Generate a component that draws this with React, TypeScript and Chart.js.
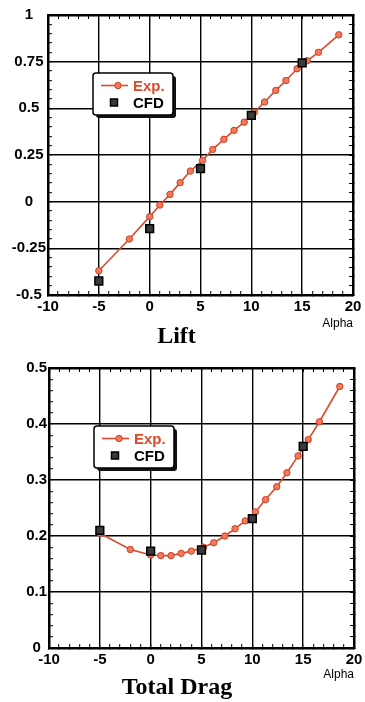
import React, { useEffect, useRef } from 'react';
import { Chart, registerables } from 'chart.js';

Chart.register(...registerables);

// ---------- data ----------
const alphaExp = [-5, -2, 0, 1, 2, 3, 4, 5.2, 6.2, 7.3, 8.3, 9.3, 10.3, 11.3, 12.4, 13.4, 14.5, 15.5, 16.6, 18.6];
const liftExp = [-0.37, -0.2, -0.08, -0.018, 0.039, 0.102, 0.164, 0.221, 0.28, 0.334, 0.382, 0.426, 0.48, 0.534, 0.596, 0.649, 0.712, 0.755, 0.8, 0.894];
const dragExp = [0.205, 0.176, 0.166, 0.165, 0.165, 0.169, 0.173, 0.18, 0.188, 0.2, 0.213, 0.227, 0.243, 0.265, 0.288, 0.313, 0.343, 0.372, 0.404, 0.467];
const alphaCfd = [-5, 0, 5, 10, 15];
const liftCfd = [-0.425, -0.145, 0.177, 0.462, 0.744];
const dragCfd = [0.21, 0.173, 0.175, 0.231, 0.36];

const seriesLabels = ['Exp.', 'CFD'];
const chartTitles = ['Lift', 'Total Drag'];
const xAxisLabel = 'Alpha';

const xRange = [-10, 20];
const xMajor = 5;
const xMinor = 1;
const liftRange = [-0.5, 1];
const liftMajor = 0.25;
const liftMinor = 0.05;
const dragRange = [0, 0.5];
const dragMajor = 0.1;
const dragMinor = 0.02;

// ---------- styles ----------
const W = 365;
const H = 351;
const RED = '#dc4a2c';
const TICK_FONT = { family: 'Liberation Sans, Arial, sans-serif', size: 15, weight: 'bold' as const };

const isMajor = (v: number, step: number) => Math.abs(v / step - Math.round(v / step)) < 1e-6;
const fmt = (v: number) => String(Math.round(v * 100) / 100);

const boxLegend = {
  id: 'boxLegend',
  afterDatasetsDraw(chart: any, _args: any, opts: any) {
    const { ctx, chartArea } = chart;
    const x = chartArea.left + opts.dx;
    const y = chartArea.top + opts.dy;
    const w = opts.w;
    const h = opts.h;
    ctx.save();
    // shadow
    ctx.fillStyle = '#111';
    ctx.beginPath();
    ctx.roundRect(x + 3, y + 3, w, h, 3);
    ctx.fill();
    ctx.fillStyle = '#fff';
    ctx.strokeStyle = '#000';
    ctx.lineWidth = 1.5;
    ctx.beginPath();
    ctx.roundRect(x, y, w, h, 3);
    ctx.fill();
    ctx.stroke();
    ctx.font = 'bold 15px "Liberation Sans", Arial, sans-serif';
    ctx.textBaseline = 'middle';
    chart.data.datasets.forEach((ds: any, i: number) => {
      const ry = y + opts.rows[i];
      if (ds.showLine !== false) {
        ctx.strokeStyle = ds.borderColor;
        ctx.lineWidth = 1.6;
        ctx.beginPath();
        ctx.moveTo(x + 8, ry);
        ctx.lineTo(x + 35, ry);
        ctx.stroke();
        ctx.fillStyle = ds.pointBackgroundColor;
        ctx.strokeStyle = ds.pointBorderColor;
        ctx.lineWidth = 1;
        ctx.beginPath();
        ctx.arc(x + 25, ry, 3.2, 0, Math.PI * 2);
        ctx.fill();
        ctx.stroke();
        ctx.fillStyle = RED;
      } else {
        ctx.fillStyle = ds.pointBackgroundColor;
        ctx.strokeStyle = ds.pointBorderColor;
        ctx.lineWidth = 1.5;
        ctx.fillRect(x + 17.5, ry - 3.5, 7, 7);
        ctx.strokeRect(x + 17.5, ry - 3.5, 7, 7);
        ctx.fillStyle = '#000';
      }
      ctx.fillText(ds.label, x + 40, ry + 1);
    });
    ctx.restore();
  },
};

type PanelProps = {
  title: string;
  exp: number[];
  cfd: number[];
  yRange: number[];
  yMajor: number;
  yMinor: number;
  top: number;
  plotTop: number;
  plotBottom: number;
  plotLeft: number;
  plotRight: number;
};

const noPad = (s: any) => {
  s.paddingLeft = 0;
  s.paddingRight = 0;
  s.paddingTop = 0;
  s.paddingBottom = 0;
};

function Panel(p: PanelProps) {
  const ref = useRef<HTMLCanvasElement>(null);
  useEffect(() => {
    const titleFontSize = 24;
    const titleH = titleFontSize * 1.2;
    const tickLen = -4;
    const gridColor = (step: number) => (c: any) =>
      c.tick && isMajor(c.tick.value, step) ? '#000' : 'rgba(0,0,0,0)';
    const chart = new Chart(ref.current!, {
      type: 'line',
      data: {
        datasets: [
          {
            label: seriesLabels[0],
            data: alphaExp.map((a, i) => ({ x: a, y: p.exp[i] })),
            borderColor: RED,
            borderWidth: 1.6,
            pointRadius: 3.2,
            pointBackgroundColor: '#f27a5a',
            pointBorderColor: '#d23c22',
            pointBorderWidth: 1,
            showLine: true,
            order: 1,
          },
          {
            label: seriesLabels[1],
            data: alphaCfd.map((a, i) => ({ x: a, y: p.cfd[i] })),
            showLine: false,
            pointStyle: 'rect',
            pointRadius: 5.5,
            pointBackgroundColor: '#3a3a3a',
            pointBorderColor: '#000',
            pointBorderWidth: 1.5,
            borderColor: '#000',
            order: 0,
          },
        ],
      },
      options: {
        animation: false,
        responsive: false,
        maintainAspectRatio: false,
        events: [],
        layout: {
          padding: { top: p.plotTop, left: 0, right: W - p.plotRight, bottom: 0 },
        },
        plugins: {
          legend: { display: false },
          tooltip: { enabled: false },
          title: {
            display: true,
            position: 'bottom',
            text: p.title,
            color: '#000',
            font: { family: 'Liberation Serif, Times New Roman, serif', size: titleFontSize, weight: 'bold', lineHeight: 1.2 },
            padding: { top: 0, bottom: 0 },
          },
          boxLegend: { dx: 45, dy: 58, w: 80, h: 42, rows: [12.5, 29.5] },
        } as any,
        scales: {
          x: {
            type: 'linear',
            position: 'bottom',
            min: xRange[0],
            max: xRange[1],
            afterFit: (s: any) => {
              s.height = H - p.plotBottom - titleH;
              noPad(s);
            },
            ticks: {
              stepSize: xMinor,
              autoSkip: false,
              maxRotation: 0,
              maxTicksLimit: 200,
              padding: 7,
              color: '#000',
              font: TICK_FONT,
              callback: (v: any) => (isMajor(Number(v), xMajor) ? fmt(Number(v)) : ''),
            },
            grid: {
              color: gridColor(xMajor),
              lineWidth: 1.4,
              tickLength: tickLen,
              tickColor: '#000',
              tickWidth: 1,
            },
            border: { color: '#000', width: 2.5 },
            title: {
              display: true,
              text: xAxisLabel,
              align: 'end',
              color: '#000',
              font: { family: 'Liberation Sans, Arial, sans-serif', size: 12 },
              padding: { top: 0, bottom: -9 },
            },
          },
          x2: {
            type: 'linear',
            position: 'top',
            min: xRange[0],
            max: xRange[1],
            afterFit: (s: any) => {
              s.height = 0;
              noPad(s);
            },
            ticks: { display: false, stepSize: xMinor, autoSkip: false, maxTicksLimit: 200 },
            grid: { drawOnChartArea: false, tickLength: tickLen, tickColor: '#000', tickWidth: 1 },
            border: { color: '#000', width: 2.5 },
          },
          y: {
            type: 'linear',
            position: 'left',
            min: p.yRange[0],
            max: p.yRange[1],
            afterFit: (s: any) => {
              s.width = p.plotLeft;
              noPad(s);
            },
            ticks: {
              stepSize: p.yMinor,
              autoSkip: false,
              maxTicksLimit: 200,
              padding: 6,
              crossAlign: 'center',
              color: '#000',
              font: TICK_FONT,
              callback: (v: any) => (isMajor(Number(v), p.yMajor) ? fmt(Number(v)) : ''),
            },
            grid: {
              color: gridColor(p.yMajor),
              lineWidth: 1.4,
              tickLength: tickLen,
              tickColor: '#000',
              tickWidth: 1,
            },
            border: { color: '#000', width: 2.5 },
          },
          y2: {
            type: 'linear',
            position: 'right',
            min: p.yRange[0],
            max: p.yRange[1],
            afterFit: (s: any) => {
              s.width = 0;
              noPad(s);
            },
            ticks: { display: false, stepSize: p.yMinor, autoSkip: false, maxTicksLimit: 200 },
            grid: { drawOnChartArea: false, tickLength: tickLen, tickColor: '#000', tickWidth: 1 },
            border: { color: '#000', width: 2.5 },
          },
        } as any,
      },
      plugins: [boxLegend],
    } as any);
    return () => chart.destroy();
  }, []);
  return (
    <canvas
      ref={ref}
      width={W}
      height={H}
      style={{ position: 'absolute', left: 0, top: p.top, width: W, height: H, display: 'block' }}
    />
  );
}

export default function App() {
  return (
    <div style={{ position: 'absolute', left: 0, top: 0, width: W, height: 2 * H, background: '#fff' }}>
      <Panel
        title={chartTitles[0]}
        exp={liftExp}
        cfd={liftCfd}
        yRange={liftRange}
        yMajor={liftMajor}
        yMinor={liftMinor}
        top={0}
        plotTop={15}
        plotBottom={295}
        plotLeft={48}
        plotRight={353}
      />
      <Panel
        title={chartTitles[1]}
        exp={dragExp}
        cfd={dragCfd}
        yRange={dragRange}
        yMajor={dragMajor}
        yMinor={dragMinor}
        top={H}
        plotTop={17}
        plotBottom={297}
        plotLeft={49}
        plotRight={354}
      />
    </div>
  );
}
